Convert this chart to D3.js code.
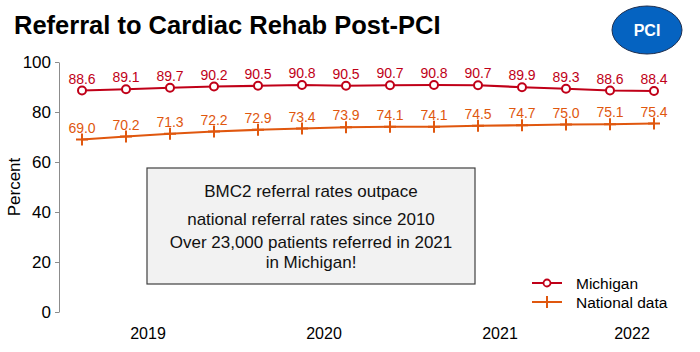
<!DOCTYPE html>
<html>
<head>
<meta charset="utf-8">
<title>Referral to Cardiac Rehab Post-PCI</title>
<style>
  body { margin: 0; background: #fff; }
  svg { display: block; font-family: "Liberation Sans", Arial, sans-serif; }
</style>
</head>
<body>
<svg width="700" height="352"></svg>
<script src="https://cdn.jsdelivr.net/npm/d3@7"></script>
<script>
// data
const michigan = [88.6, 89.1, 89.7, 90.2, 90.5, 90.8, 90.5, 90.7, 90.8, 90.7, 89.9, 89.3, 88.6, 88.4]
const national = [69.0, 70.2, 71.3, 72.2, 72.9, 73.4, 73.9, 74.1, 74.1, 74.5, 74.7, 75.0, 75.1, 75.4]
const years = ["2019", "2020", "2021", "2022"]
const yearAt = [1.5, 5.5, 9.5, 12.5]   // position between the data points
const yTicks = [0, 20, 40, 60, 80, 100]
const noteLines = ["BMC2 referral rates outpace", "national referral rates since 2010",
  "Over 23,000 patients referred in 2021", "in Michigan!"]

const redCol = "#C00018", orangeCol = "#E0570E"

const svg = d3.select("svg")

// scales
const x = d3.scaleLinear().domain([0, michigan.length - 1]).range([82, 654])
const y = d3.scaleLinear().domain([0, 100]).range([312, 62])

// title
svg.append("text").attr("x", 14).attr("y", 34)
  .attr("font-size", 25.5).attr("font-weight", "bold").attr("fill", "#000")
  .text("Referral to Cardiac Rehab Post-PCI")

// PCI badge
const badge = svg.append("g").attr("transform", "translate(647,30)")
badge.append("ellipse").attr("rx", 35).attr("ry", 24)
  .attr("fill", "#0563C1").attr("stroke", "#1f2f4f").attr("stroke-width", 1)
badge.append("text").attr("y", 6).attr("text-anchor", "middle")
  .attr("font-size", 16).attr("font-weight", "bold").attr("fill", "#fff").text("PCI")

// y axis
const yAxis = svg.append("g").attr("transform", "translate(59,0)")
  .call(d3.axisLeft(y).tickValues(yTicks).tickSize(4).tickSizeOuter(0).tickPadding(4))
yAxis.select(".domain").attr("stroke", "#8c8c8c")
yAxis.selectAll(".tick line").attr("stroke", "#8c8c8c")
yAxis.selectAll(".tick text").attr("font-size", 17).attr("fill", "#000")
  .attr("font-family", "Liberation Sans, Arial, sans-serif")

svg.append("text").attr("transform", "translate(20,187) rotate(-90)")
  .attr("text-anchor", "middle").attr("font-size", 17).text("Percent")

// year labels
svg.append("g").selectAll("text").data(years).enter().append("text")
  .attr("x", (d, i) => x(yearAt[i])).attr("y", 339)
  .attr("text-anchor", "middle").attr("font-size", 16).text(d => d)

// note box
const note = svg.append("g")
note.append("rect").attr("x", 147).attr("y", 168).attr("width", 328).attr("height", 116)
  .attr("fill", "#f2f2f2").attr("stroke", "#404040").attr("stroke-width", 1.2)
const noteY = [197, 225, 248, 268]
note.selectAll("text").data(noteLines).enter().append("text")
  .attr("x", 311).attr("y", (d, i) => noteY[i])
  .attr("text-anchor", "middle").attr("font-size", 17).attr("fill", "#111").text(d => d)

// lines
const line = d3.line().x((d, i) => x(i)).y(d => y(d))

function drawSeries(vals, col, marker) {
  const g = svg.append("g")
  g.append("path").attr("d", line(vals)).attr("fill", "none")
    .attr("stroke", col).attr("stroke-width", 2.2)
  if (marker === "circle") {
    g.selectAll("circle").data(vals).enter().append("circle")
      .attr("cx", (d, i) => x(i)).attr("cy", d => y(d)).attr("r", 4)
      .attr("fill", "#fff").attr("stroke", col).attr("stroke-width", 2)
  } else {
    g.selectAll("path.mk").data(vals).enter().append("path").attr("class", "mk")
      .attr("d", (d, i) => `M${x(i) - 6},${y(d)}H${x(i) + 6}M${x(i)},${y(d) - 6}V${y(d) + 6}`)
      .attr("stroke", col).attr("stroke-width", 2)
  }
  g.selectAll("text").data(vals).enter().append("text")
    .attr("x", (d, i) => x(i)).attr("y", d => y(d) - 7)
    .attr("text-anchor", "middle").attr("font-size", 14).attr("fill", col)
    .text(d => d.toFixed(1))
}
drawSeries(michigan, redCol, "circle")
drawSeries(national, orangeCol, "plus")

// legend
const legend = [["Michigan", redCol, "circle"], ["National data", orangeCol, "plus"]]
const lg = svg.append("g").selectAll("g").data(legend).enter().append("g")
  .attr("transform", (d, i) => `translate(532,${283 + i * 19})`)
lg.append("line").attr("x1", 0).attr("x2", 30).attr("stroke", d => d[1]).attr("stroke-width", 2)
lg.filter(d => d[2] === "circle").append("circle").attr("cx", 15).attr("r", 3.5)
  .attr("fill", "#fff").attr("stroke", d => d[1]).attr("stroke-width", 1.8)
lg.filter(d => d[2] === "plus").append("line").attr("x1", 15).attr("x2", 15)
  .attr("y1", -6).attr("y2", 6).attr("stroke", d => d[1]).attr("stroke-width", 2)
lg.append("text").attr("x", 44).attr("y", 5.5).attr("font-size", 15.5).text(d => d[0])
</script>
</body>
</html>
